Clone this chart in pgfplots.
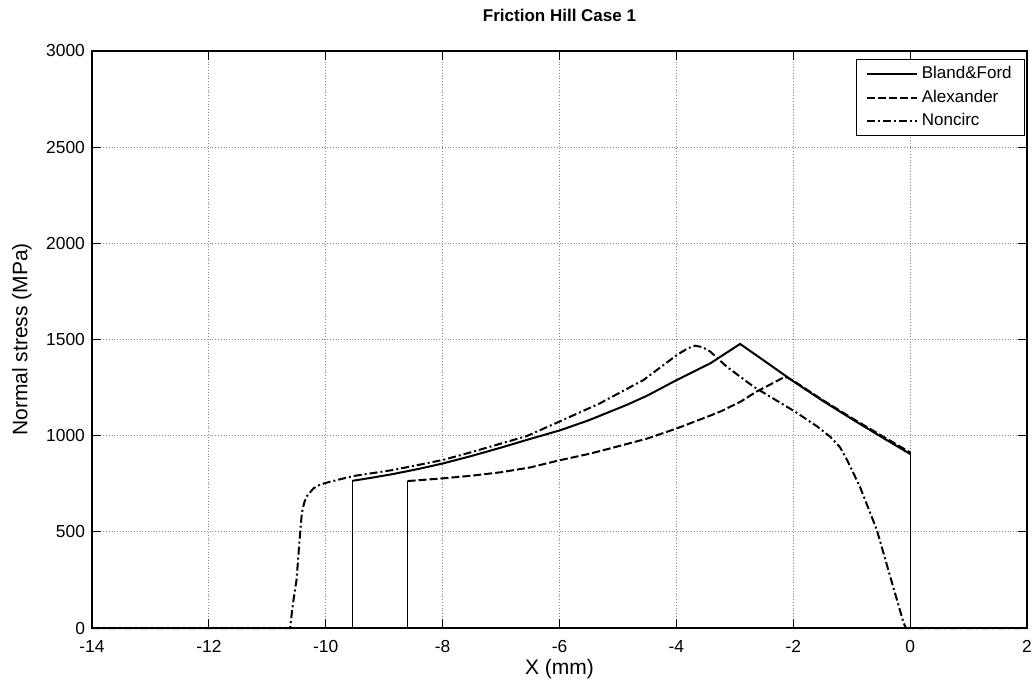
\documentclass[border=0pt]{standalone}
\usepackage{fontspec}
\setmainfont{Liberation Sans}
\usepackage{pgfplots}
\pgfplotsset{compat=1.18}

\begin{document}
\begin{tikzpicture}
\begin{axis}[
    at={(46pt,32.5pt)}, anchor=south west,
    scale only axis,
    width=467.5pt, height=288.5pt,
    xmin=-14, xmax=2, ymin=0, ymax=3000,
    xtick={-14,-12,...,2},
    ytick={0,500,...,3000},
    tick align=inside,
    major tick length=4.5pt,
    every tick/.style={black, line width=0.5pt},
    axis line style={black, line width=0.6pt},
    grid=major,
    grid style={densely dotted, gray!90, line width=0.5pt},
    /pgf/number format/assume math mode=true,
    /pgf/number format/1000 sep={},
    ticklabel style={font=\fontsize{8.7}{10}\selectfont},
    xticklabel style={yshift=-2.5pt},
    title={Friction Hill Case 1},
    title style={font=\bfseries\fontsize{8.5}{10}\selectfont, at={(axis description cs:0.5,1.0416)}, anchor=center},
    xlabel={X (mm)},
    xlabel style={font=\fontsize{10.5}{12}\selectfont, at={(axis description cs:0.5,-0.071)}, anchor=center},
    ylabel={Normal stress (MPa)},
    ylabel style={font=\fontsize{10.5}{12}\selectfont, at={(axis description cs:-0.075,0.5)}, anchor=center},
    legend style={at={(axis description cs:0.998,0.986)}, anchor=north east,
        draw=black, line width=0.5pt, fill=white,
        font=\fontsize{8.5}{10}\selectfont,
        inner xsep=4.5pt, inner ysep=1.5pt, row sep=0pt},
    legend cell align=left,
    legend image code/.code={\draw[#1] (0pt,0pt) -- (25pt,0pt);},
    clip=false,
]
% Bland&Ford
\addplot[black, line width=1pt] coordinates {
(-9.55,765) (-9.2,782) (-8.84,801) (-8.4,828) (-7.99,856) (-7.5,895) (-7.0,938)
(-6.56,978) (-5.99,1028) (-5.5,1080) (-4.85,1160) (-4.5,1208) (-3.99,1290)
(-3.42,1376) (-2.91,1477) (-2.5,1390) (-2.0,1283) (-1.5,1182) (-1.0,1087)
(-0.5,995) (0,905)
};
\addlegendentry{Bland\&Ford}
% Alexander
\addplot[black, line width=1pt, dash pattern=on 4pt off 1.5pt] coordinates {
(-8.6,764) (-8.0,778) (-7.5,792) (-7.0,810) (-6.5,835) (-6.0,872) (-5.5,905)
(-5.13,934) (-4.5,985) (-3.99,1038) (-3.5,1095) (-3.25,1125) (-2.9,1177)
(-2.63,1229) (-2.4,1265) (-2.14,1307) (-2.0,1286) (-1.5,1186) (-1.0,1092)
(-0.5,1002) (0,913)
};
\addlegendentry{Alexander}
% Noncirc
\addplot[black, line width=1pt, dash pattern=on 4pt off 1.5pt on 1pt off 1.5pt] coordinates {
(-14,0) (-10.61,0) (-10.58,80) (-10.55,150) (-10.5,250) (-10.45,450) (-10.41,596)
(-10.37,650) (-10.33,683) (-10.21,726) (-10.1,745) (-9.98,756) (-9.76,773)
(-9.53,790) (-8.84,822) (-7.99,874) (-7.5,915) (-6.56,998) (-5.99,1075)
(-5.31,1168) (-4.56,1290) (-3.99,1420) (-3.8,1455) (-3.68,1468) (-3.55,1460)
(-3.42,1437) (-3.14,1359) (-2.91,1307) (-2.68,1255) (-1.97,1125) (-1.6,1050)
(-1.37,995) (-1.2,940) (-1.08,874) (-0.86,735) (-0.57,510) (-0.34,267)
(-0.11,24) (-0.07,0) (2,0)
};
\addlegendentry{Noncirc}
% thin vertical edges
\addplot[forget plot, black, line width=0.5pt] coordinates {(-9.55,0) (-9.55,765)};
\addplot[forget plot, black, line width=0.5pt] coordinates {(-8.6,0) (-8.6,764)};
\addplot[forget plot, black, line width=0.5pt] coordinates {(0,0) (0,913)};
\end{axis}
\pgfresetboundingbox
\path[use as bounding box] (0,0) rectangle (516pt,346.5pt);
\end{tikzpicture}
\end{document}
